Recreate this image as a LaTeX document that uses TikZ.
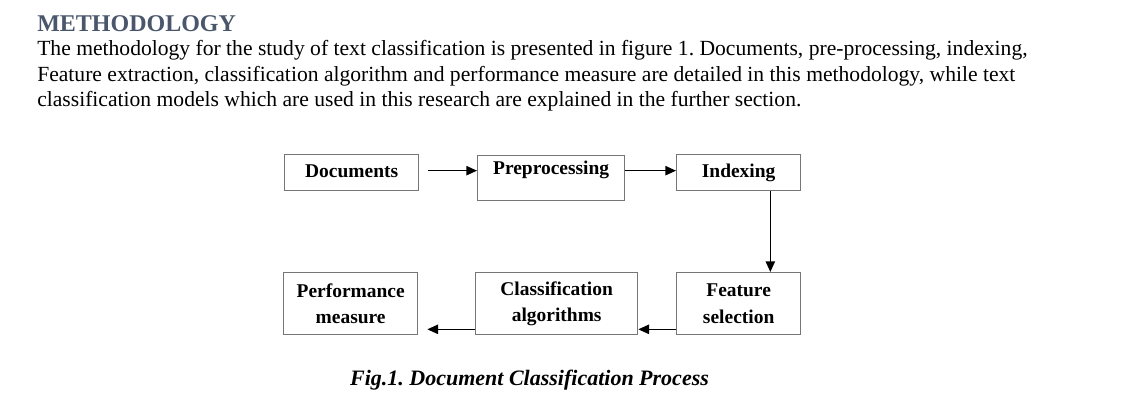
\documentclass[tikz,border=0pt]{standalone}
\usepackage{fontspec}
\setmainfont{Liberation Serif}
\usepackage{tikz}
\usetikzlibrary{arrows.meta}
\frenchspacing
\definecolor{headblue}{RGB}{74,86,108}
\definecolor{boxgray}{RGB}{118,118,118}
\tikzset{
  stage/.style={draw=boxgray, line width=1pt, anchor=north west, inner sep=0pt, align=center,
    font=\fontsize{14.6}{20}\selectfont\bfseries},
  oneline/.style={text height=0.8em, text depth=0.15em},
  flow/.style={-{Triangle[length=8pt,width=7pt]}, line width=1pt},
  para/.style={anchor=base west, inner sep=0pt, font=\fontsize{16.2}{20}\selectfont},
  head/.style={anchor=base west, inner sep=0pt, text=headblue, font=\fontsize{18}{22}\selectfont\bfseries},
  figcap/.style={anchor=base, inner sep=0pt, font=\fontsize{16.5}{20}\selectfont\bfseries\itshape}
}

\begin{document}
\begin{tikzpicture}[x=0.75pt, y=-0.75pt]
  \useasboundingbox (0,0) rectangle (1140,418);
  % text above the figure
  \node[head] (title) at (37,31) {METHODOLOGY};
  \node[para] (lineA) at (37,55) {The methodology for the study of text classification is presented in figure 1. Documents, pre-processing, indexing,};
  \node[para] (lineB) at (37,81) {Feature extraction, classification algorithm and performance measure are detailed in this methodology, while text};
  \node[para] (lineC) at (37,106) {classification models which are used in this research are explained in the further section.};
  % top row
  \node[stage, oneline, minimum width=100.5pt, minimum height=27pt] (docs) at (284,154) {Documents};
  \node[stage, oneline, text depth=14pt, minimum width=110.25pt, minimum height=33.75pt] (prep) at (477,155) {Preprocessing};
  \node[stage, oneline, minimum width=93pt, minimum height=27pt] (idx) at (676,154) {Indexing};
  % bottom row
  \node[stage, minimum width=100.5pt, minimum height=46.5pt] (perf) at (283,272) {Performance\\measure};
  \node[stage, minimum width=121.5pt, minimum height=46.5pt] (clas) at (475,272) {Classification\\algorithms};
  \node[stage, minimum width=93pt, minimum height=46.5pt] (feat) at (676,272) {Feature\\selection};
  % connectors
  \draw[flow] ([xshift=6.75pt, yshift=1.5pt]docs.east) -- ([yshift=1.5pt]docs.east -| prep.west);
  \draw[flow] ([yshift=1.5pt]idx.west -| prep.east) -- ([yshift=1.5pt]idx.west);
  \draw[flow] ([xshift=-23.25pt]idx.south east) -- ([xshift=-23.25pt]feat.north east);
  \draw[flow] ([yshift=4.5pt]feat.south west) -- ([yshift=4.5pt]clas.south east);
  \draw[flow] ([yshift=4.5pt]clas.south west) -- ([xshift=6.75pt, yshift=4.5pt]perf.south east);
  \node[figcap] (cap) at (529.5,385) {Fig.1. Document Classification Process};
\end{tikzpicture}
\end{document}
